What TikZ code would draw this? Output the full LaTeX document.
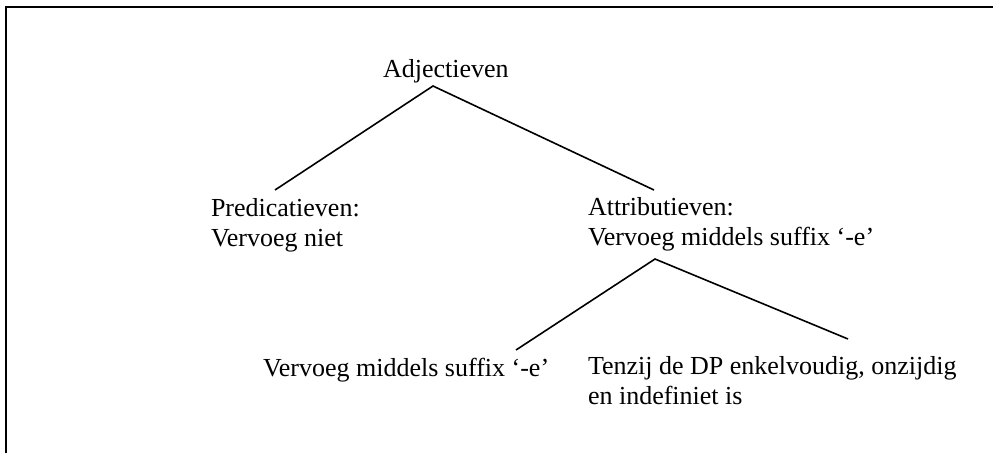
\documentclass[tikz,border=0pt]{standalone}
\usepackage{fontspec}
\setmainfont{Liberation Serif}
\begin{document}
\begin{tikzpicture}[x=1pt,y=-1pt,
  txt/.style={inner sep=0pt, outer sep=0pt, font=\fontsize{26}{30}\selectfont, align=left, anchor=base west},
  branch/.style={line width=1.6pt},
  frame/.style={line width=2.6pt}]
\useasboundingbox (0,0) rectangle (993,453);
\draw[frame] (6,453) -- (6,7) -- (993,7);
\node[txt] (adj) at (383,77) {Adjectieven};
\node[txt] (pred) at (211,246) {Predicatieven:\\Vervoeg niet};
\node[txt] (attr) at (588,245) {Attributieven:\\Vervoeg middels suffix ‘-e’};
\node[txt] (suf) at (263,376) {Vervoeg middels suffix ‘-e’};
\node[txt] (tenz) at (588,404) {Tenzij de DP enkelvoudig, onzijdig\\en indefiniet is};
\coordinate (a0) at (433,86);
\coordinate (a1) at (275,190);
\coordinate (a2) at (654,190);
\coordinate (b0) at (655,259);
\coordinate (b1) at (516,350);
\coordinate (b2) at (848,339);
\draw[branch] (a1) -- (a0) -- (a2);
\draw[branch] (b1) -- (b0) -- (b2);
\end{tikzpicture}
\end{document}
